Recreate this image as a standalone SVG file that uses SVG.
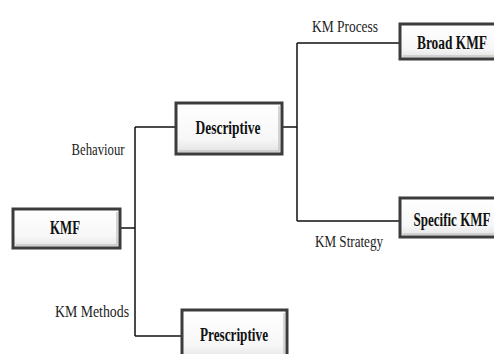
<svg xmlns="http://www.w3.org/2000/svg" width="494" height="354" viewBox="0 0 494 354">
<defs>
<linearGradient id="g" x1="0" y1="0" x2="0" y2="1">
<stop offset="0" stop-color="#ffffff"/>
<stop offset="0.7" stop-color="#f7f7f7"/>
<stop offset="1" stop-color="#e2e2e2"/>
</linearGradient>
</defs>
<style>
.box{fill:url(#g);stroke:#3c3c3c;stroke-width:3}
.inner{fill:none;stroke:#c8c8c8;stroke-width:1.5}
.nt{font-family:"Liberation Serif",serif;font-weight:bold;font-size:18px;fill:#111;text-anchor:middle}
.lb{font-family:"Liberation Serif",serif;font-size:16px;fill:#222;text-anchor:middle}
.c{fill:none;stroke:#111;stroke-width:1.5}
</style>
<rect width="494" height="354" fill="#fff"/>
<g id="connectors">
<path class="c" d="M120,228 H135 M135,127 V336 M135,127 H176 M135,336 H183"/>
<path class="c" d="M282,127 H297 M297,43 V221 M297,43 H400 M297,221 H400"/>
</g>
<g id="labels">
<text class="lb" x="98" y="155" textLength="53" lengthAdjust="spacingAndGlyphs">Behaviour</text>
<text class="lb" x="92" y="317" textLength="74" lengthAdjust="spacingAndGlyphs">KM Methods</text>
<text class="lb" x="345" y="32" textLength="66" lengthAdjust="spacingAndGlyphs">KM Process</text>
<text class="lb" x="349" y="247" textLength="68" lengthAdjust="spacingAndGlyphs">KM Strategy</text>
</g>
<g id="KMF">
<rect class="box" x="13" y="209" width="107" height="39"/>
<path class="inner" d="M16,245 H117 V212"/>
<text class="nt" x="65" y="234" textLength="30" lengthAdjust="spacingAndGlyphs">KMF</text>
</g>
<g id="Descriptive">
<rect class="box" x="176" y="103" width="106" height="51"/>
<path class="inner" d="M179,151 H279 V106"/>
<text class="nt" x="228" y="134" textLength="65" lengthAdjust="spacingAndGlyphs">Descriptive</text>
</g>
<g id="Prescriptive">
<rect class="box" x="182" y="310" width="105" height="50"/>
<path class="inner" d="M284,313 V360"/>
<text class="nt" x="234" y="341" textLength="68" lengthAdjust="spacingAndGlyphs">Prescriptive</text>
</g>
<g id="BroadKMF">
<rect class="box" x="400" y="24" width="100" height="35"/>
<path class="inner" d="M403,56 H500"/>
<text class="nt" x="452" y="49" textLength="70" lengthAdjust="spacingAndGlyphs">Broad KMF</text>
</g>
<g id="SpecificKMF">
<rect class="box" x="400" y="198" width="100" height="39"/>
<path class="inner" d="M403,234 H500"/>
<text class="nt" x="452" y="226" textLength="77" lengthAdjust="spacingAndGlyphs">Specific KMF</text>
</g>
</svg>
